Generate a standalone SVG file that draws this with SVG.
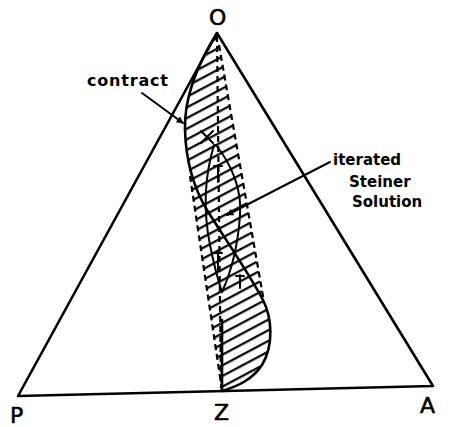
<svg xmlns="http://www.w3.org/2000/svg" width="450" height="427" viewBox="0 0 450 427">
<style>
  .ln{fill:none;stroke:#000;stroke-width:2.6;stroke-linecap:round;stroke-linejoin:round}
  .thin{fill:none;stroke:#000;stroke-width:2;stroke-linecap:round}
  .dash{fill:none;stroke:#000;stroke-width:2.2;stroke-dasharray:6 4}
  .lbl{font-family:"DejaVu Sans","Liberation Sans",sans-serif;font-weight:bold;font-size:15px;fill:#000}
  .pt{font-family:"DejaVu Sans","Liberation Sans",sans-serif;font-size:22px;fill:#000;stroke:#000;stroke-width:0.6}
</style>
<defs>
  <pattern id="hatch" patternUnits="userSpaceOnUse" width="9.4" height="9.4" patternTransform="rotate(-28)">
    <line x1="0" y1="4" x2="9.4" y2="4" stroke="#000" stroke-width="2.2"/>
  </pattern>
  <clipPath id="hc">
    <path d="M217,33 C200,60 184,95 185,130 C186,152 188,168 191,180 L222,391 C238,386 252,380 262,365 C274,345 272,318 263,300 L219,45 Z"/>
  </clipPath>
  <marker id="ah" viewBox="0 0 10 10" refX="9" refY="5" markerWidth="8" markerHeight="7" orient="auto" markerUnits="userSpaceOnUse">
    <path d="M0,0 L10,5 L0,10 Z" fill="#000"/>
  </marker>
</defs>

<g id="triangle">
  <path class="ln" d="M217,33 L18,396 L433,386 Z"/>
</g>

<g id="contract-region">
  <rect x="150" y="30" width="140" height="370" fill="url(#hatch)" clip-path="url(#hc)"/>
  <path class="dash" d="M219,45 L264,302"/>
  <path class="dash" d="M190,176 L222,390"/>
  <path class="dash" d="M217,36 L221,388"/>
  <path class="ln" d="M217,33 C200,60 184,95 185,130 C186,165 195,190 207,210 C220,231 250,275 263,300 C272,318 274,345 262,365 C252,380 238,386 222,391"/>
  <path class="ln" d="M222,320 L222,390"/>
</g>

<g id="steiner-path">
  <path class="thin" d="M214,145 C205,175 203,210 210,245 C214,265 218,280 222,292"/>
  <path class="thin" d="M216,145 C232,165 242,190 240,215 C238,245 232,270 222,292"/>
  <path class="thin" d="M201,131 L213,143 M213,131 L201,143"/>
  <path class="thin" d="M218,165 L218,182 M214,166 L222,166"/>
  <path class="thin" d="M218,252 L218,270 M214,253 L222,253"/>
  <path class="thin" d="M240,275 L240,288 M236,276 L244,276"/>
</g>

<g id="labels">
  <text class="pt" x="209" y="25">O</text>
  <text class="pt" x="10" y="423">P</text>
  <text class="pt" x="214" y="420">Z</text>
  <text class="pt" x="420" y="413">A</text>
  <text class="lbl" x="87" y="86" style="font-size:16px;letter-spacing:0.8px">contract</text>
  <text class="lbl" x="333" y="165">iterated</text>
  <text class="lbl" x="349" y="187">Steiner</text>
  <text class="lbl" x="352" y="207">Solution</text>
</g>

<g id="connectors">
  <line class="thin" x1="142" y1="93" x2="183" y2="123" marker-end="url(#ah)"/>
  <line class="thin" x1="330" y1="162" x2="227" y2="215" marker-end="url(#ah)"/>
</g>
</svg>
